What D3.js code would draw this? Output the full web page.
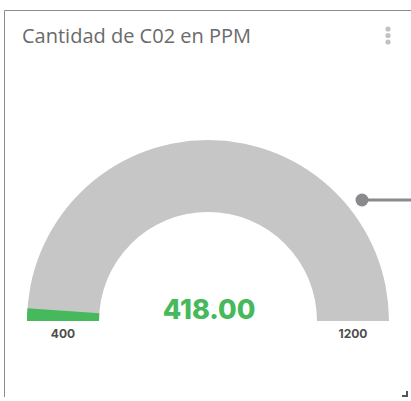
<!DOCTYPE html>
<html>
<head>
<meta charset="utf-8">
<script src="https://cdn.jsdelivr.net/npm/d3@7"></script>
<style>
	body { margin: 0; background: #fff; }
	svg { display: block; }
</style>
</head>
<body>
<div id="chart"></div>
<script>
var w = 411, h = 401;

// Gauge data
var title = "Cantidad de C02 en PPM";
var gaugeMin = 400, gaugeMax = 1200;
var gaugeValue = 418;
var tickLabels = [400, 1200];

var cx = 208, cy = 321, rOuter = 181, rInner = 109;

var svg = d3.select("#chart").append("svg")
	.attr("width", w)
	.attr("height", h);

// Card frame
svg.append("path")
	.attr("d", "M4.5," + (h - 4) + " L4.5,10.5 L" + w + ",10.5")
	.attr("fill", "none")
	.attr("stroke", "#8c8c8c")
	.attr("stroke-width", 1);

// Resize corner
svg.append("path")
	.attr("d", "M402,396 L407,396 L407,391")
	.attr("fill", "none")
	.attr("stroke", "#555")
	.attr("stroke-width", 2);

// Title
svg.append("text")
	.attr("x", 22)
	.attr("y", 43)
	.attr("font-family", "Open Sans")
	.attr("font-size", 20)
	.attr("fill", "#6a6a6a")
	.text(title);

// Menu dots
svg.selectAll("circle.dot")
	.data([29, 35.5, 42])
	.enter()
	.append("circle")
		.attr("class", "dot")
		.attr("cx", 388)
		.attr("cy", function(d) { return d; })
		.attr("r", 2.6)
		.attr("fill", "#c2c2c2");

// Angle scale
var angle = d3.scaleLinear()
	.domain([gaugeMin, gaugeMax])
	.range([-Math.PI / 2, Math.PI / 2]);

var arc = d3.arc()
	.innerRadius(rInner)
	.outerRadius(rOuter);

var g = svg.append("g")
	.attr("transform", "translate(" + cx + "," + cy + ")");

// Background band
g.append("path")
	.attr("d", arc({ startAngle: angle(gaugeMin), endAngle: angle(gaugeMax) }))
	.attr("fill", "#c6c6c6");

// Value band
g.append("path")
	.attr("d", arc({ startAngle: angle(gaugeMin), endAngle: angle(gaugeValue) }))
	.attr("fill", "#45b95b");

// Value label
g.append("text")
	.attr("x", 1)
	.attr("y", -2)
	.attr("text-anchor", "middle")
	.attr("font-family", "Inter")
	.attr("font-weight", 800)
	.attr("font-size", 27)
	.attr("fill", "#45b95b")
	.text(d3.format(".2f")(gaugeValue));

// Min / max labels
g.selectAll("text.tick")
	.data(tickLabels)
	.enter()
	.append("text")
		.attr("class", "tick")
		.attr("x", function(d) { return Math.sin(angle(d)) * (rOuter + rInner) / 2; })
		.attr("y", 16.5)
		.attr("text-anchor", "middle")
		.attr("font-family", "Inter")
		.attr("font-weight", "bold")
		.attr("font-size", 12)
		.attr("fill", "#4d4d4d")
		.text(function(d) { return d; });

// Pointer on the right
svg.append("line")
	.attr("x1", 362)
	.attr("y1", 200)
	.attr("x2", w)
	.attr("y2", 200)
	.attr("stroke", "#8a8a8e")
	.attr("stroke-width", 3);

svg.append("circle")
	.attr("cx", 362)
	.attr("cy", 200)
	.attr("r", 6.5)
	.attr("fill", "#8a8a8e");
</script>
</body>
</html>
